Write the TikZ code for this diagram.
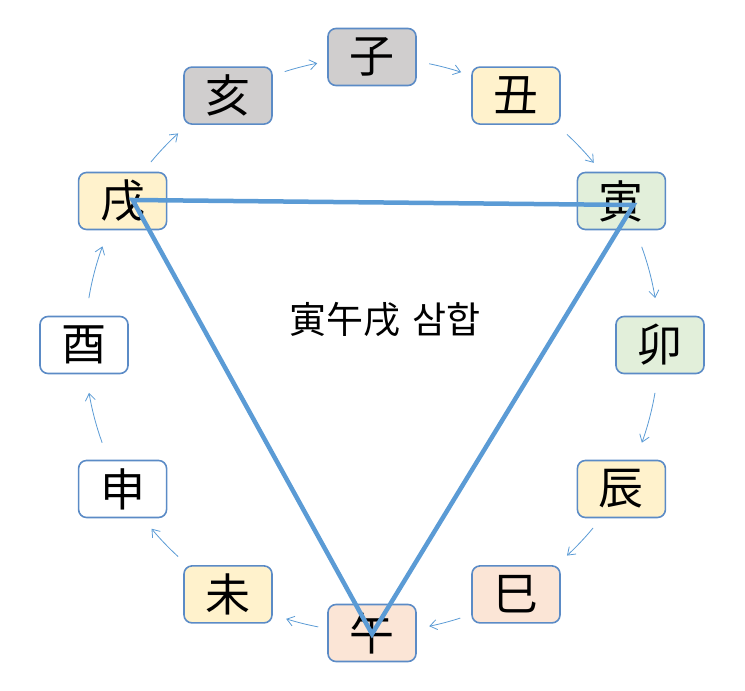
\documentclass[tikz,border=0pt]{standalone}
\usepackage{fontspec}
\newfontfamily\cjk{Noto Sans CJK KR}
\usetikzlibrary{calc,arrows.meta}
\definecolor{bord}{HTML}{5B8BC6}
\definecolor{tri}{HTML}{5B9BD5}
\definecolor{fgray}{HTML}{D0CECE}
\definecolor{fyel}{HTML}{FFF2CC}
\definecolor{fgrn}{HTML}{E2EFDA}
\definecolor{fpch}{HTML}{FBE5D6}
\tikzset{
  zbox/.style={draw=bord, line width=1.6pt, rounded corners=8pt,
    minimum width=88pt, minimum height=57pt, inner sep=0pt,
    font=\cjk\fontsize{45}{46}\selectfont},
  arr/.style={draw=tri, line width=0.8pt, -{Straight Barb[length=7pt,width=10pt]}},
  triline/.style={draw=tri, line width=4.5pt, line join=miter},
  lbl/.style={font=\cjk\fontsize{37}{39}\selectfont, inner sep=0pt}
}
\begin{document}
\begin{tikzpicture}
\useasboundingbox (0,0) rectangle (745pt,691pt);
\coordinate (O) at (372pt,346pt);
\node[zbox, fill=fgray] (zi)   at ($(O)+(90:288pt)$)  {子};
\node[zbox, fill=fyel]  (chuk) at ($(O)+(60:288pt)$)  {丑};
\node[zbox, fill=fgrn]  (in)   at ($(O)+(30:288pt)$)  {寅};
\node[zbox, fill=fgrn]  (myo)  at ($(O)+(0:288pt)$)   {卯};
\node[zbox, fill=fyel]  (jin)  at ($(O)+(-30:288pt)$) {辰};
\node[zbox, fill=fpch]  (sa)   at ($(O)+(-60:288pt)$) {巳};
\node[zbox, fill=fpch]  (o)    at ($(O)+(-90:288pt)$) {午};
\node[zbox, fill=fyel]  (mi)   at ($(O)+(-120:288pt)$) {未};
\node[zbox, fill=white] (sin)  at ($(O)+(-150:288pt)$) {申};
\node[zbox, fill=white] (yu)   at ($(O)+(180:288pt)$) {酉};
\node[zbox, fill=fyel]  (sul)  at ($(O)+(150:288pt)$) {戌};
\node[zbox, fill=fgray] (hae)  at ($(O)+(120:288pt)$) {亥};
% arrows (arcs on the circle)
\foreach \a/\b in {107.7/101.0, 78.5/71.9, 47.2/39.4, 20/9.4, -9.6/-19.9,
  -39.6/-47.2, -72.1/-78.5, -100.8/-107.4, -132.5/-140.2, -160.1/-170.4,
  170.6/159.9, 140.4/132.5}
  \draw[arr] ($(O)+(\a:287pt)$) arc[start angle=\a, end angle=\b, radius=287pt];
% triangle
\coordinate (tS) at ($(sul)+(10pt,1pt)$);
\coordinate (tI) at ($(in)+(12pt,-4pt)$);
\coordinate (tO) at ($(o)+(0pt,-1pt)$);
\draw[triline] (tS) -- (tI) -- (tO) -- cycle;
\node[lbl] (label) at (385pt,371pt) {寅午戌\hspace{0.3em}삼합};
\end{tikzpicture}
\end{document}
